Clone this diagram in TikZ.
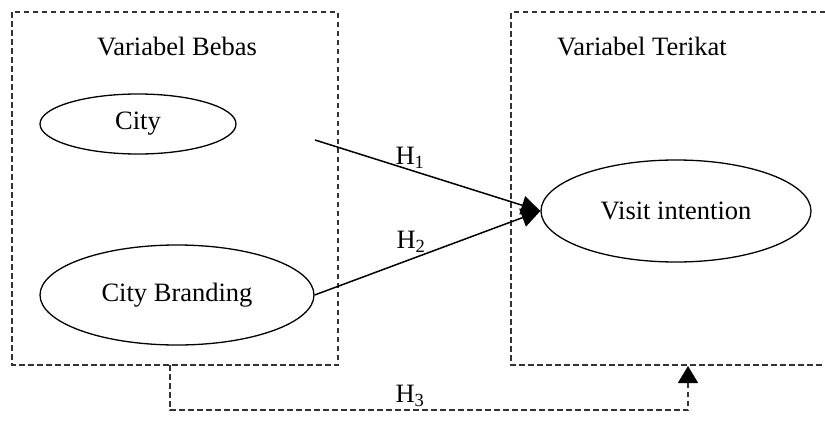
\documentclass[tikz,border=0pt]{standalone}
\usepackage{fontspec}
\setmainfont{Liberation Serif}
\usetikzlibrary{arrows.meta,shapes.geometric}
\begin{document}
\begin{tikzpicture}[x=1pt,y=-1pt,
  box/.style={draw=black!80,line width=1.3pt,dash pattern=on 5.5pt off 3.5pt},
  var/.style={draw,ellipse,line width=1.3pt,inner sep=0pt,font=\fontsize{26.5}{30}\selectfont},
  lbl/.style={font=\fontsize{26.5}{30}\selectfont,inner sep=0pt},
  conn/.style={line width=1.5pt,-{Triangle[length=19pt,width=19pt]}}]
\useasboundingbox (0,0) rectangle (825,434);
\draw[box] (12,12) rectangle (338,365);
\draw[box] (825,12) -- (511,12) -- (511,365) -- (825,365);
\node[lbl] (tb) at (177,47) {Variabel Bebas};
\node[lbl] (tt) at (642,47) {Variabel Terikat};
\node[var,minimum width=196pt,minimum height=60pt] (city) at (138,124) {City};
\node[var,minimum width=274pt,minimum height=100pt] (cb) at (177,295) {City Branding};
\node[var,minimum width=270pt,minimum height=102pt] (vi) at (676,211) {Visit intention};
\coordinate (s1) at (315,140);
\coordinate (s3) at (170,365);
\coordinate (e3) at (688,366);
\draw[conn] (s1) -- (vi.west);
\draw[conn] (cb.east) -- (vi.west);
\draw[box,-{Triangle[length=17pt,width=20pt,color=black]}] (s3) -- (170,410) -- (688,410) -- (e3);
\node[lbl] (h1) at (410,158) {H\textsubscript{1}};
\node[lbl] (h2) at (411,242) {H\textsubscript{2}};
\node[lbl] (h3) at (410,396) {H\textsubscript{3}};
\end{tikzpicture}
\end{document}
